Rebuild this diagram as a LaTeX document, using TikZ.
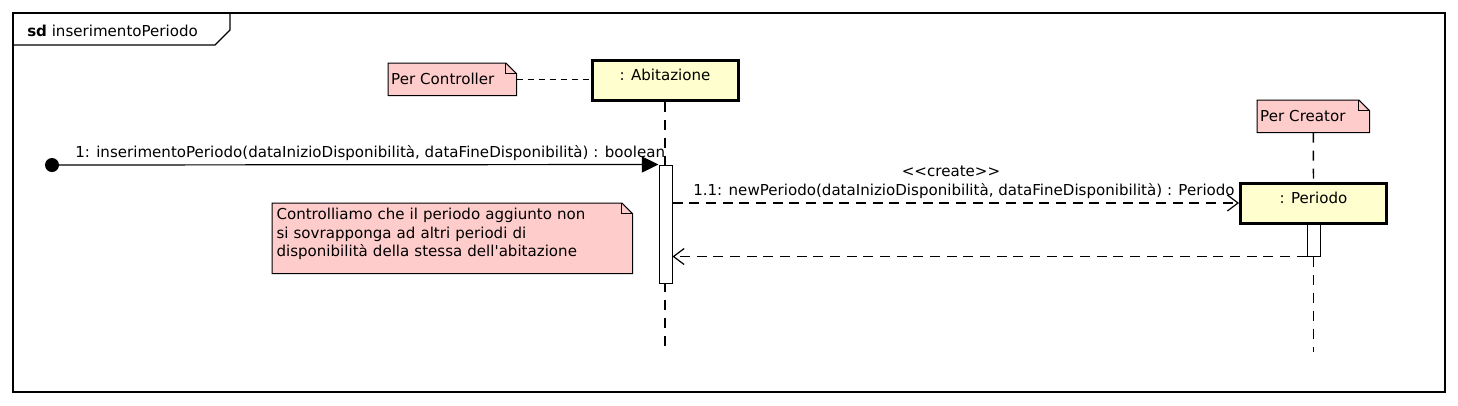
\documentclass[tikz,border=0pt]{standalone}
\usepackage{fontspec}
\setmainfont{DejaVu Sans}[Ligatures=TeXOff]
\usetikzlibrary{arrows.meta,backgrounds}
\pgfdeclarelayer{paper}
\pgfsetlayers{paper,background,main}
\definecolor{objfill}{HTML}{FEFECE}
\definecolor{notefill}{HTML}{FFCCCC}
\tikzset{
  uml/.style={font=\fontsize{11.3}{14}\selectfont},
  obj/.style={draw=black, line width=2.25pt, fill=objfill, minimum width=109.5pt, minimum height=30pt, inner sep=0pt, text height=7pt, text depth=6pt},
  act/.style={draw=black, line width=0.75pt, fill=white, minimum width=9.75pt, inner sep=0pt},
  notebody/.style={inner sep=0pt, align=left, anchor=north west},
  noteshape/.style={draw=black, line width=0.75pt, fill=notefill},
  lifeline/.style={draw=black, line width=1.1pt, dash pattern=on 7.5pt off 6pt},
  notelink/.style={draw=black, line width=0.9pt, dash pattern=on 4.5pt off 3.75pt},
  syncmsg/.style={draw=black, line width=0.9pt, -{Triangle[length=12.5pt,width=12pt]}},
  dashmsg/.style={draw=black, line width=0.9pt, dash pattern=on 7.5pt off 5pt, -{Straight Barb[length=8pt,width=12pt,line width=0.9pt]}},
  lbl/.style={inner sep=0pt, anchor=base west},
}
\newcommand{\notefold}[1]{%
  \begin{pgfonlayer}{background}
  \path[noteshape] (#1.south west) -- (#1.north west) -- ([xshift=-8pt]#1.north east)
     -- ([yshift=-8pt]#1.north east) -- (#1.south east) -- cycle;
  \draw[line width=0.75pt] ([xshift=-8pt]#1.north east) |- ([yshift=-8pt]#1.north east);
  \end{pgfonlayer}}
\begin{document}
\begin{tikzpicture}[x=0.75pt, y=-0.75pt, uml]
\begin{pgfonlayer}{paper}
\fill[white] (0,0) rectangle (1458,405);
\end{pgfonlayer}
\useasboundingbox (0,0) rectangle (1458,405);

% frame
\draw[line width=0.9pt] (13,13) rectangle (1445,392);
\draw[line width=0.9pt] (13,45) -- (215,45) -- (230,30) -- (230,13);
\node[lbl] (title) at (27,36) {\textbf{sd} inserimentoPeriodo};

% objects
\node[obj] (abit) at (665,80) {: Abitazione};
\node[obj] (per) at (1313.5,203) {: Periodo};

% notes
\node[notebody, minimum width=96pt, minimum height=24pt, text width=94pt] (pc) at (388,63) {\hspace{1.2pt}Per Controller};
\notefold{pc}
\node[notebody, minimum width=84pt, minimum height=24pt, text width=82pt] (pcr) at (1257,100) {\hspace{1.2pt}Per Creator};
\notefold{pcr}
\node[notebody, minimum width=270pt, minimum height=52.5pt, text width=266pt, text depth=36.5pt] (nt) at (272,203) {\hspace{1.2pt}Controlliamo che il periodo aggiunto non\\\hspace{1.2pt}si sovrapponga ad altri periodi di\\\hspace{1.2pt}disponibilità della stessa dell'abitazione};
\notefold{nt}

% lifelines
\coordinate (abitEnd) at (665,352);
\coordinate (perEnd) at (1313.5,352);
\draw[lifeline] (abit.south) -- (abitEnd);
\draw[lifeline] (pcr.south) -- (per.north);
\draw[notelink] (pc.east) -- (pc.east -| abit.west);

% activations
\node[act, minimum height=88.5pt] (act1) at (665.5,224) {};
\node[act, minimum height=24pt] (act2) at (1313.5,240) {};
\draw[lifeline] (act2.south) -- (perEnd);

% messages
\node[circle, fill=black, minimum size=10.5pt, inner sep=0pt] (start) at (52,165) {};
\draw[syncmsg] (start.center) -- (act1.north west);
\node[lbl] (m1) at (75,157) {1: inserimentoPeriodo(dataInizioDisponibilità, dataFineDisponibilità) : boolean};

\draw[dashmsg] (act1.east |- per.west) -- (per.west);
\node[inner sep=0pt, anchor=base] (st) at (951,176) {<<create>>};
\node[lbl] (m11) at (693,195) {1.1: newPeriodo(dataInizioDisponibilità, dataFineDisponibilità) : Periodo};

\draw[dashmsg] (act2.south west) -- (act1.east |- act2.south west);
\end{tikzpicture}
\end{document}
